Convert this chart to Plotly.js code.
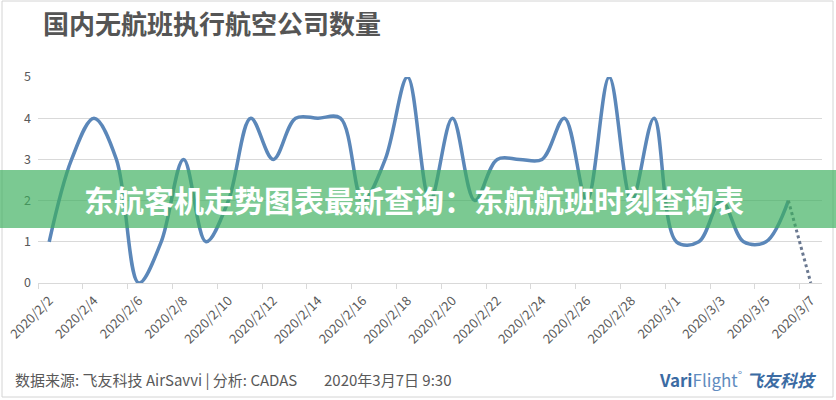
<!DOCTYPE html>
<html>
<head>
<meta charset="utf-8">
<script src="https://cdn.plot.ly/plotly-3.0.1.min.js"></script>
<style>
html,body{margin:0;padding:0;background:#fff;}
#chart{width:836px;height:400px;}
</style>
</head>
<body>
<div id="chart"></div>
<script>
// ---- data ----
var dates = ['2020/2/2','2020/2/3','2020/2/4','2020/2/5','2020/2/6','2020/2/7','2020/2/8','2020/2/9',
  '2020/2/10','2020/2/11','2020/2/12','2020/2/13','2020/2/14','2020/2/15','2020/2/16','2020/2/17',
  '2020/2/18','2020/2/19','2020/2/20','2020/2/21','2020/2/22','2020/2/23','2020/2/24','2020/2/25',
  '2020/2/26','2020/2/27','2020/2/28','2020/2/29','2020/3/1','2020/3/2','2020/3/3','2020/3/4',
  '2020/3/5','2020/3/6','2020/3/7'];
var counts = [1,3,4,3,0,1,3,1,2,4,3,4,4,4,2,3,5,2,4,2,3,3,3,4,2,5,2,4,1,1,2,1,1,2];
var forecastDates = ['2020/3/6','2020/3/7'];
var forecastCounts = [2,0];
var yTicks = [0,1,2,3,4,5];

var titleText = '国内无航班执行航空公司数量';
var bannerText = '东航客机走势图表最新查询：东航航班时刻查询表';
var sourceText = '数据来源: 飞友科技 AirSavvi | 分析: CADAS';
var timeText = '2020年3月7日 9:30';

// ---- layout helpers (pixel -> paper) ----
var L = 38, R = 822, T = 77, B = 283;
function px(x){ return (x - L) / (R - L); }
function py(y){ return (B - y) / (B - T); }

var FONT = '"Noto Sans CJK SC", "Noto Sans", sans-serif';

var traces = [
  {
    x: dates.slice(0, counts.length), y: counts, type: 'scatter', mode: 'lines',
    line: {color: '#5b87b9', width: 3.5, shape: 'spline', smoothing: 1},
    hoverinfo: 'x+y', cliponaxis: false
  },
  {
    x: forecastDates, y: forecastCounts, type: 'scatter', mode: 'lines',
    line: {color: '#6a7890', width: 3, dash: 'dot'},
    hoverinfo: 'x+y', cliponaxis: false
  }
];

var layout = {
  width: 836, height: 400,
  margin: {l: L, r: 836 - R, t: T, b: 400 - B},
  paper_bgcolor: '#ffffff', plot_bgcolor: '#ffffff',
  showlegend: false,
  font: {family: FONT, color: '#595959', size: 12},
  title: {
    text: '<b>' + titleText + '</b>',
    x: 43 / 836, xanchor: 'left', y: 1 - 25 / 400, yanchor: 'middle',
    font: {family: FONT, size: 26, color: '#555555'}
  },
  xaxis: {
    type: 'category', categoryarray: dates, categoryorder: 'array',
    range: [-0.5, dates.length - 0.5],
    tickson: 'boundaries', dtick: 2, tick0: 0,
    ticks: 'outside', ticklen: 5, tickcolor: '#d9d9d9',
    showline: true, linecolor: '#d9d9d9', linewidth: 1,
    showgrid: false, zeroline: false,
    ticklabelstandoff: 4,
    tickangle: -45, tickfont: {size: 13, color: '#595959', family: FONT}
  },
  yaxis: {
    range: [0, 5], tickvals: yTicks,
    showgrid: true, gridcolor: '#d9d9d9', gridwidth: 1,
    zeroline: false, showline: false, ticks: '',
    ticklabelstandoff: 6,
    tickfont: {size: 12.5, color: '#595959', family: FONT}
  },
  shapes: [
    {type: 'rect', xref: 'paper', yref: 'paper', x0: px(2), x1: px(833), y0: py(397), y1: py(1),
     line: {color: '#d4d4d4', width: 1}, fillcolor: 'rgba(0,0,0,0)', layer: 'below'},
    {type: 'rect', xref: 'paper', yref: 'paper', x0: px(-2), x1: px(838), y0: py(228), y1: py(170),
     line: {width: 0}, fillcolor: 'rgba(60,175,95,0.68)', layer: 'above'}
  ],
  annotations: [
    {xref: 'paper', yref: 'paper', x: px(414), y: py(199), xanchor: 'center', yanchor: 'middle',
     showarrow: false, text: '<b>' + bannerText + '</b>',
     font: {family: FONT, size: 30, color: '#ffffff'}},
    {xref: 'paper', yref: 'paper', x: px(13), y: py(379), xanchor: 'left', yanchor: 'middle',
     showarrow: false, text: sourceText, font: {family: FONT, size: 15, color: '#595959'}},
    {xref: 'paper', yref: 'paper', x: px(322), y: py(379), xanchor: 'left', yanchor: 'middle',
     showarrow: false, text: timeText, font: {family: FONT, size: 15, color: '#595959'}},
    {xref: 'paper', yref: 'paper', x: px(819), y: py(379), xanchor: 'right', yanchor: 'middle',
     showarrow: false,
     text: '<b><span style="color:#3b6ba3">Vari</span></b><span style="color:#5f8cc0">Flight</span><sup><span style="color:#5f8cc0">°</span></sup> <b><i><span style="color:#3b6ba3">飞友科技</span></i></b>',
     font: {family: FONT, size: 17, color: '#3b6ba3'}}
  ]
};

Plotly.newPlot('chart', traces, layout, {displayModeBar: false, staticPlot: true});
</script>
</body>
</html>
